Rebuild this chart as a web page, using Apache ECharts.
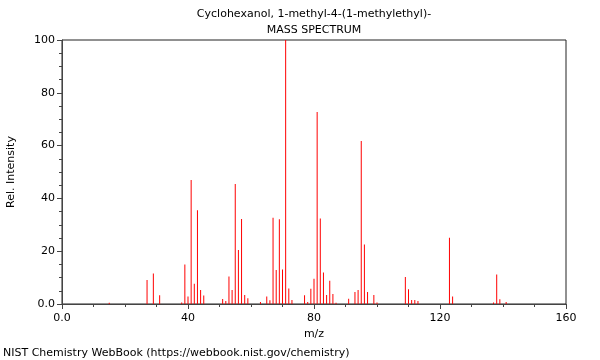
<!DOCTYPE html>
<html>
<head>
<meta charset="utf-8">
<script src="https://cdn.jsdelivr.net/npm/echarts@6/dist/echarts.min.js"></script>
<style>html,body{margin:0;padding:0;background:#fff;}#c{width:600px;height:360px;}</style>
</head>
<body>
<div id="c"></div>
<script>
var mzValues = [15,27,29,31,38,39,40,41,42,43,44,45,51,52,53,54,55,56,57,58,59,63,65,66,67,68,69,70,71,72,73,77,78,79,80,81,82,83,84,85,86,87,91,93,94,95,96,97,99,100,109,110,111,112,113,123,124,137,138,139,141];
var intensities = [0.5,9.1,11.6,3.3,0.6,15,2.8,47,7.7,35.5,5.3,3.2,1.9,1.1,10.4,5.3,45.5,20.5,32.2,3.4,2.2,0.8,2.8,1.4,32.7,12.9,32.1,13.1,100,5.9,1.5,3.3,0.8,5.8,9.6,72.7,32.4,11.9,3.4,8.8,3.8,0.5,2.0,4.5,5.3,61.7,22.5,4.5,3.4,0.6,10.2,5.6,1.5,1.5,1.1,25.1,2.8,0.6,11.2,1.8,0.8];
var titleLines = ['Cyclohexanol, 1-methyl-4-(1-methylethyl)-', 'MASS SPECTRUM'];
var xTitle = 'm/z';
var yTitle = 'Rel. Intensity';
var footer = 'NIST Chemistry WebBook (https://webbook.nist.gov/chemistry)';

var data = mzValues.map(function(m, i){ return [m, intensities[i]]; });
var font = 'DejaVu Sans';
var chart = echarts.init(document.getElementById('c'), null, {renderer:'canvas'});
chart.setOption({
  animation: false,
  backgroundColor: '#fff',
  title: [
    {text: titleLines[0], left: 314, top: 9, textAlign: 'center', padding: 0,
     textStyle: {fontFamily: font, fontSize: 11, fontWeight: 'normal', color: '#000'}},
    {text: titleLines[1], left: 314, top: 25, textAlign: 'center', padding: 0,
     textStyle: {fontFamily: font, fontSize: 11, fontWeight: 'normal', color: '#000'}}
  ],
  grid: {left: 62, right: 34, top: 40, bottom: 56, containLabel: false, outerBoundsMode: 'none',
         show: true, borderColor: '#222', borderWidth: 1, backgroundColor: 'transparent'},
  xAxis: {
    type: 'value', min: 0, max: 160, interval: 40,
    name: xTitle, nameLocation: 'middle', nameGap: 24,
    nameTextStyle: {fontFamily: font, fontSize: 11, color: '#000'},
    axisLine: {show: true, lineStyle: {color: '#444', width: 1}},
    axisTick: {show: true, length: 5, lineStyle: {color: '#444'}},
    minorTick: {show: true, splitNumber: 4, length: 3, lineStyle: {color: '#444'}},
    splitLine: {show: false},
    axisLabel: {fontFamily: font, fontSize: 11, color: '#000', margin: 9,
      formatter: function(v){ return v === 0 ? '0.0' : String(v); }}
  },
  yAxis: {
    type: 'value', min: 0, max: 100, interval: 20,
    name: yTitle, nameLocation: 'middle', nameGap: 45,
    nameTextStyle: {fontFamily: font, fontSize: 11, color: '#000'},
    axisLine: {show: true, lineStyle: {color: '#444', width: 1}},
    axisTick: {show: true, length: 5, lineStyle: {color: '#444'}},
    minorTick: {show: true, splitNumber: 4, length: 3, lineStyle: {color: '#444'}},
    splitLine: {show: false},
    axisLabel: {fontFamily: font, fontSize: 11, color: '#000', margin: 7,
      formatter: function(v){ return v === 0 ? '0.0' : String(v); }}
  },
  series: [{
    type: 'bar', data: data, barWidth: 1,
    itemStyle: {color: '#ff0000'}, silent: true
  }],
  graphic: [
    {type: 'text', left: 3, top: 348, style: {text: footer, fontFamily: font, fontSize: 11, fill: '#000'}}
  ]
});
</script>
</body>
</html>
